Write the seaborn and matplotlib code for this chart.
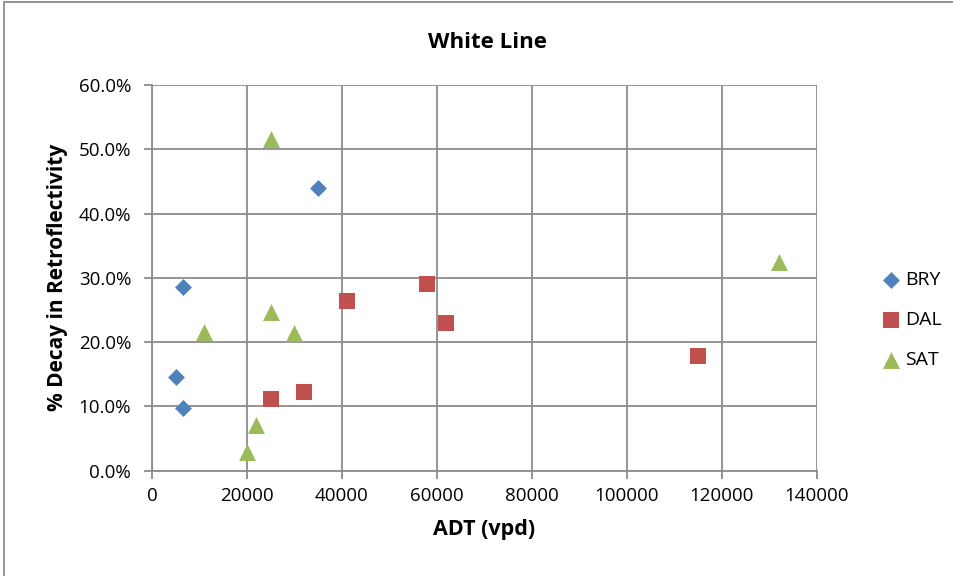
import matplotlib
matplotlib.use("Agg")
import matplotlib.pyplot as plt
import matplotlib.ticker as mticker
from matplotlib.patches import Rectangle
import seaborn as sns
import pandas as pd

# Average daily traffic (vpd) and decay in retroflectivity (%) per district
bry_adt = [35000, 6600, 5000, 6600]
bry_decay = [44.0, 28.5, 14.6, 9.8]

dal_adt = [25000, 32000, 41000, 58000, 62000, 115000]
dal_decay = [11.2, 12.2, 26.4, 29.1, 23.0, 17.9]

sat_adt = [25000, 25000, 11000, 30000, 22000, 20000, 132000]
sat_decay = [51.6, 24.7, 21.6, 21.4, 7.1, 2.9, 32.4]

series = ["BRY", "DAL", "SAT"]
x_ticks = [0, 20000, 40000, 60000, 80000, 100000, 120000, 140000]
y_ticks = [0, 10, 20, 30, 40, 50, 60]

df = pd.concat([
    pd.DataFrame({"ADT": bry_adt, "Decay": bry_decay, "District": "BRY"}),
    pd.DataFrame({"ADT": dal_adt, "Decay": dal_decay, "District": "DAL"}),
    pd.DataFrame({"ADT": sat_adt, "Decay": sat_decay, "District": "SAT"}),
], ignore_index=True)

sns.set_theme(style="white")
plt.rcParams["font.family"] = ["Open Sans", "DejaVu Sans"]
plt.rcParams["text.color"] = "black"
plt.rcParams["axes.labelcolor"] = "black"

W, H = 954, 576
fig = plt.figure(figsize=(W / 100, H / 100), dpi=100)
ax = fig.add_axes([152 / W, 1 - 470.7 / H, (816.7 - 152) / W, (470.7 - 85) / H])

colors = {"BRY": "#4F81BD", "DAL": "#C0504D", "SAT": "#9BBB59"}
markers = {"BRY": "D", "DAL": "s", "SAT": "^"}
sizes = {"BRY": 8.6 ** 2, "DAL": 12.2 ** 2, "SAT": 12.2 ** 2}

grid_c = "#8C8C8C"
ax.set_xlim(0, 140000)
ax.set_ylim(0, 60)
ax.set_xticks(x_ticks)
ax.set_yticks(y_ticks)
ax.yaxis.set_major_formatter(mticker.FuncFormatter(lambda v, p: f"{v:.1f}%"))
ax.xaxis.set_major_formatter(mticker.FuncFormatter(lambda v, p: f"{int(v)}"))
ax.grid(True, color=grid_c, linewidth=1.3)
ax.set_axisbelow(True)
for side in ["top", "right"]:
    ax.spines[side].set_visible(False)
for side in ["left", "bottom"]:
    ax.spines[side].set_color(grid_c)
    ax.spines[side].set_linewidth(1.3)
ax.tick_params(axis="both", which="major", direction="out", length=6,
               width=1.3, color=grid_c, labelsize=13.5, labelcolor="#000000",
               left=True, bottom=True)
ax.tick_params(axis="x", pad=6)
ax.tick_params(axis="y", pad=9)

for name in series:
    sub = df[df["District"] == name]
    sns.scatterplot(data=sub, x="ADT", y="Decay", ax=ax, marker=markers[name],
                    color=colors[name], s=sizes[name], linewidth=0,
                    label=name, clip_on=False, zorder=3)

ax.set_xlabel("ADT (vpd)", fontsize=15.5, fontweight="bold", labelpad=10,
              color="black")
ax.set_ylabel("% Decay in Retroflectivity", fontsize=15, fontweight="bold",
              labelpad=8, color="black")

leg = ax.legend(loc="center left", bbox_to_anchor=(876 / W, 1 - 320 / H),
                bbox_transform=fig.transFigure, frameon=False, fontsize=14,
                handletextpad=0.0, labelspacing=1.15, borderaxespad=0,
                handlelength=1.5, borderpad=0)
for txt in leg.get_texts():
    txt.set_color("#000000")

fig.text(488 / W, 1 - 42 / H, "White Line", ha="center", va="center",
         fontsize=16, fontweight="bold", color="black")

# Chart frame
fig.patches.append(Rectangle((4 / W, -0.1), 1.2, 1 - 1.5 / H + 0.1,
                             transform=fig.transFigure, fill=False,
                             edgecolor="#8C8C8C", linewidth=1.3))

fig.savefig("out.png", dpi=100, facecolor="white")
